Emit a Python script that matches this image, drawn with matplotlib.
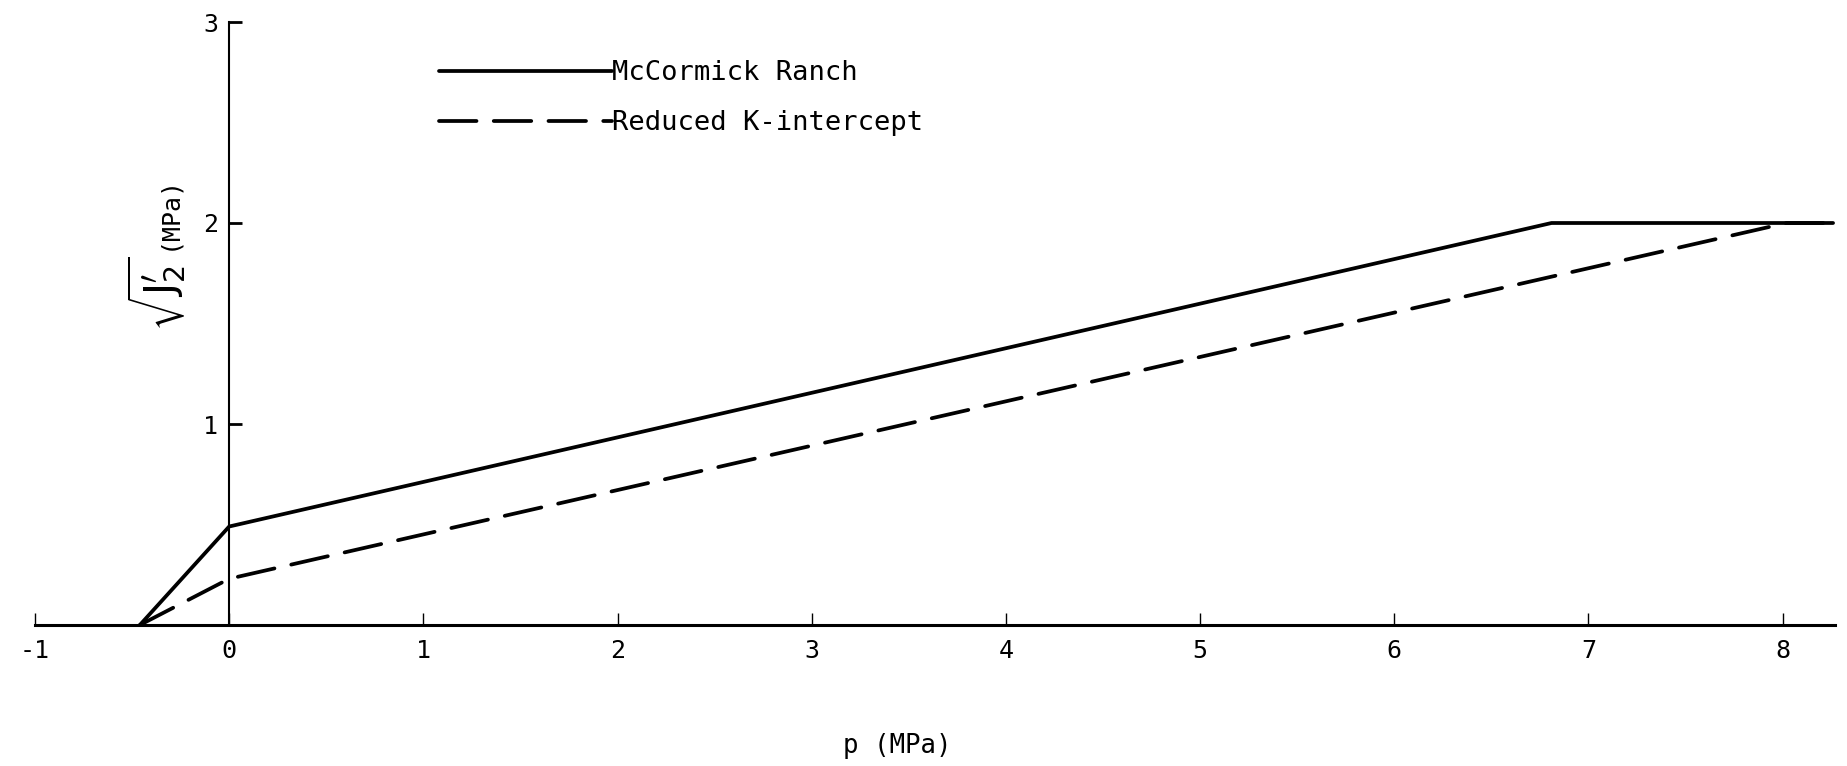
import matplotlib
matplotlib.use("Agg")
import matplotlib.pyplot as plt

# yield surface traces, p (MPa) against sqrt(J2') (MPa)
p_mccormick = [-0.46, 0.0, 6.81, 8.26]
q_mccormick = [0.0, 0.49, 2.0, 2.0]

p_reduced = [-0.46, 0.0, 8.02, 8.26]
q_reduced = [0.0, 0.23, 2.0, 2.0]

x_ticks = [-1, 0, 1, 2, 3, 4, 5, 6, 7, 8]
x_tick_labels = ["-1", "0", "1", "2", "3", "4", "5", "6", "7", "8"]
y_ticks = [1, 2, 3]
y_tick_labels = ["1", "2", "3"]

series_labels = ["McCormick Ranch", "Reduced K-intercept"]

MONO = ["DejaVu Sans Mono", "DejaVu Sans"]
plt.rcParams["font.family"] = MONO
plt.rcParams["mathtext.fontset"] = "dejavusans"


def main() -> None:
    fig = plt.figure(figsize=(18.47, 7.66), dpi=100)
    ax = fig.add_axes([35 / 1847, 141 / 766, 1800 / 1847, 603 / 766])

    ax.plot(p_mccormick, q_mccormick, color="black", lw=2.7,
            solid_capstyle="round", clip_on=False, label=series_labels[0])
    ax.plot(p_reduced, q_reduced, color="black", lw=2.7, dashes=(10, 4.6),
            dash_capstyle="round", clip_on=False, label=series_labels[1])

    ax.set_xlim(-1, 8.27)
    ax.set_ylim(0, 3)

    # axes cross at the origin, only left and bottom lines shown
    ax.spines["top"].set_visible(False)
    ax.spines["right"].set_visible(False)
    ax.spines["left"].set_position(("data", 0))
    ax.spines["bottom"].set_position(("data", 0))
    ax.spines["bottom"].set_linewidth(2.2)
    ax.spines["left"].set_linewidth(1.5)

    ax.set_xticks(x_ticks)
    ax.set_xticklabels(x_tick_labels)
    ax.set_yticks(y_ticks)
    ax.set_yticklabels(y_tick_labels)
    ax.tick_params(axis="x", direction="in", length=9, width=1.0,
                   labelsize=18, pad=10)
    ax.tick_params(axis="y", direction="in", length=9.5, width=2.0,
                   labelsize=18, pad=8)

    # y label in two pieces: a tall radical and the unit
    fig.text(157 / 1847, 1 - 294 / 766, r"$\sqrt{\mathrm{J}^{\prime}_{2}}$",
             fontsize=29, rotation=90, ha="center", va="center")
    fig.text(168 / 1847, 1 - 212 / 766, "(MPa)", fontsize=18,
             rotation=90, ha="center", va="center")
    fig.text(897 / 1847, 1 - 746 / 766, "p (MPa)", fontsize=18.5,
             ha="center", va="center")

    ax.legend(loc="upper left", bbox_to_anchor=(404 / 1800, 1 - 38 / 603),
              frameon=False, fontsize=19.5, handlelength=6.4,
              handletextpad=0.0, labelspacing=0.9, borderaxespad=0.0,
              borderpad=0.0)

    fig.savefig("out.png", dpi=100, facecolor="white")


if __name__ == "__main__":
    main()
